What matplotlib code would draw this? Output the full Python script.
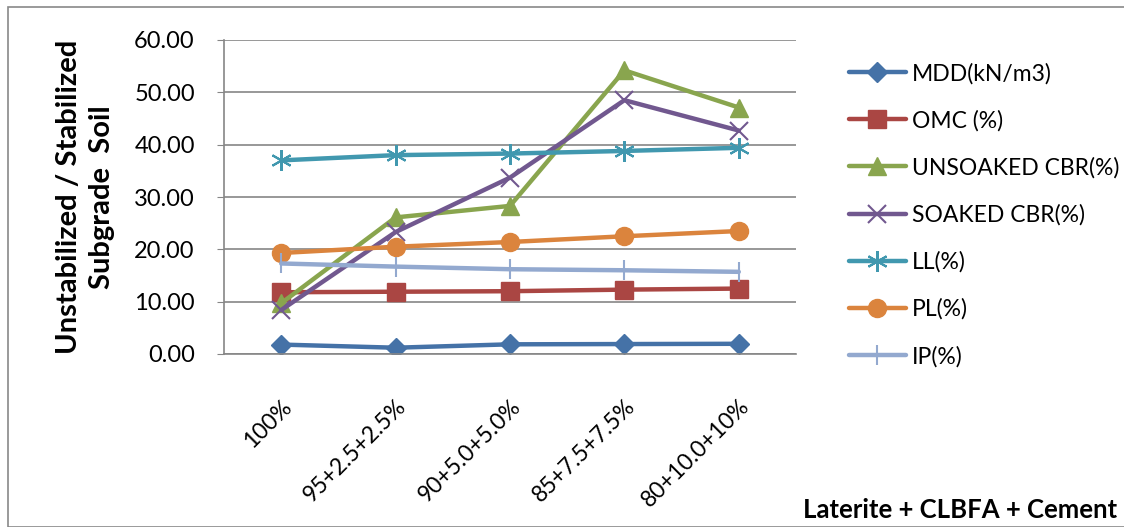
import matplotlib
matplotlib.use("Agg")
import matplotlib.pyplot as plt
from matplotlib.patches import Rectangle

plt.rcParams['font.family'] = ['Lato', 'DejaVu Sans']

categories = ["100%", "95+2.5+2.5%", "90+5.0+5.0%", "85+7.5+7.5%", "80+10.0+10%"]
mdd = [1.80, 1.20, 1.85, 1.90, 1.95]
omc = [11.8, 11.9, 12.0, 12.3, 12.5]
unsoaked_cbr = [9.7, 26.1, 28.3, 54.2, 47.1]
soaked_cbr = [8.4, 23.3, 33.7, 48.5, 42.7]
ll = [37.0, 38.0, 38.3, 38.8, 39.4]
pl = [19.3, 20.5, 21.4, 22.5, 23.5]
ip = [17.3, 16.7, 16.2, 16.0, 15.7]

series = [
    ("MDD(kN/m3)", mdd, "#4572A7", "D", 10),
    ("OMC (%)", omc, "#AA4643", "s", 13),
    ("UNSOAKED CBR(%)", unsoaked_cbr, "#89A54E", "^", 13),
    ("SOAKED CBR(%)", soaked_cbr, "#71588F", "x", 13),
    ("LL(%)", ll, "#4198AF", (6, 2, 0), 15),
    ("PL(%)", pl, "#DB843D", "o", 13),
    ("IP(%)", ip, "#93A9CF", "|", 14),
]

fig = plt.figure(figsize=(11.24, 5.27), dpi=100)
fig.patches.append(Rectangle((8 / 1124, 0), 1.2, (527 - 7) / 527, transform=fig.transFigure,
                             fill=False, edgecolor="#898989", linewidth=1.2))

ax = fig.add_axes([224 / 1124, (527 - 354) / 527, 572 / 1124, 314 / 527])
x = list(range(len(categories)))
for name, vals, color, marker, ms in series:
    ax.plot(x, vals, color=color, linewidth=3.2, marker=marker, markersize=ms,
            markeredgewidth=1.5 if marker in ("x", "|", (6, 2, 0)) else 1,
            markeredgecolor=color, markerfacecolor=color, label=name, solid_capstyle="round")

ax.set_xlim(-0.5, len(categories) - 0.5)
ax.set_ylim(0, 60)
ax.set_yticks(range(0, 61, 10))
ax.set_yticklabels([f"{v:.2f}" for v in range(0, 61, 10)], fontsize=17)
ax.set_xticks(x)
ax.set_xticklabels(categories, rotation=45, ha="right", rotation_mode="anchor", fontsize=16.5)
ax.tick_params(axis="x", length=0, pad=30)
ax.tick_params(axis="y", length=5, color="#868686", pad=16, direction="out")
ax.grid(axis="y", color="#868686", linewidth=1.2)
ax.set_axisbelow(True)
for s in ("top", "right"):
    ax.spines[s].set_visible(False)
for s in ("left", "bottom"):
    ax.spines[s].set_color("#868686")
    ax.spines[s].set_linewidth(1.2)

ax.set_ylabel("Unstabilized / Stabilized\nSubgrade  Soil", fontsize=21, fontweight="bold",
              labelpad=14, linespacing=1.3)

fig.text(1117 / 1124, (527 - 510) / 527, "Laterite + CLBFA + Cement", ha="right", va="center",
         fontsize=18.5, fontweight="bold")

fig.legend(loc="upper left", bbox_to_anchor=(828 / 1124, (527 - 42) / 527), frameon=False,
           fontsize=16.5, handlelength=2.5, labelspacing=1.12, handletextpad=0.25)

fig.savefig("out.png", dpi=100)
